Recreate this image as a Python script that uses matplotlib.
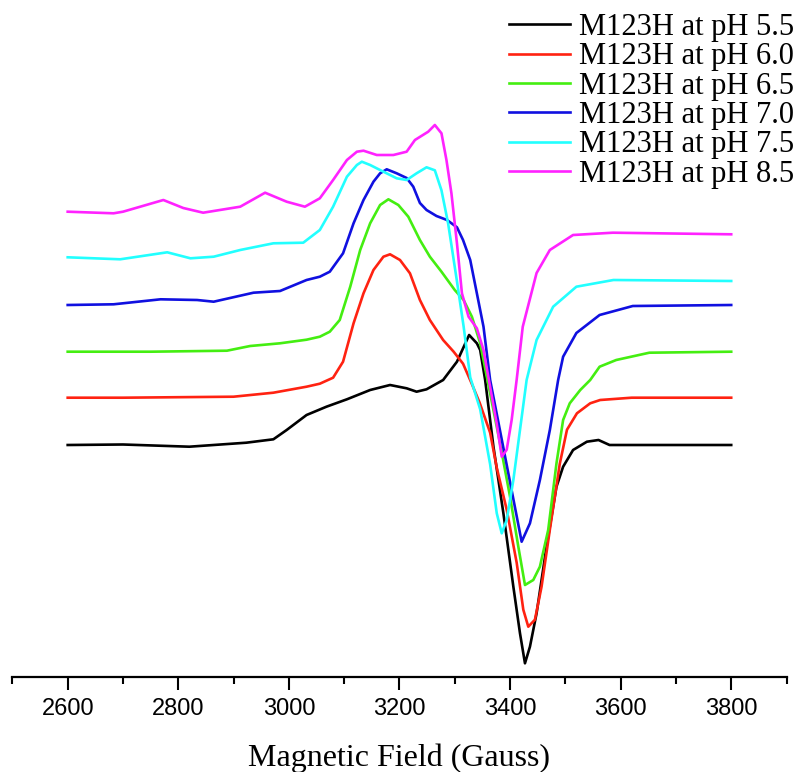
import numpy as np
import matplotlib
matplotlib.use("Agg")
from matplotlib import pyplot as plt
from matplotlib.ticker import MultipleLocator

# EPR spectra of M123H at several pH values
# signal is in arbitrary units (relative to each trace's own baseline)
field_55 = [2600, 2700, 2820, 2923, 2972, 2996, 3032, 3068, 3105, 3147, 3183, 3213, 3231, 3249,
            3279, 3304, 3326, 3340, 3346, 3355, 3370, 3388, 3406, 3418, 3427, 3436, 3448, 3466,
            3484, 3496, 3514, 3539, 3560, 3580, 3700, 3800]
sig_55 = [0, 0.5, -1.7, 2.3, 5.7, 15, 30, 38.3, 45.7, 55, 60, 56.7, 53.3, 55.7,
          65, 83.3, 110, 101.7, 95, 65, -1.7, -68.3, -141.7, -188.3, -218.3, -201.7, -168.3, -101.7,
          -41.7, -21.7, -5, 3.3, 5, 0, 0, 0]

field_60 = [2600, 2700, 2900, 2972, 3032, 3056, 3080, 3098, 3117, 3135, 3153, 3171, 3183, 3201,
            3219, 3237, 3255, 3279, 3298, 3315, 3330, 3345, 3364, 3376, 3394, 3412, 3424, 3433,
            3445, 3457, 3472, 3490, 3503, 3521, 3545, 3563, 3620, 3800]
sig_60 = [0, 0, 1, 5, 11, 14, 20, 36, 74.4, 104.4, 127.7, 141, 143.4, 137.7,
          124.4, 97.7, 77.7, 57.7, 46, 34, 15, -5, -35, -70, -112, -165, -212, -229,
          -222, -189, -132, -66, -32, -15.6, -5.6, -2.3, 0, 0]

field_65 = [2600, 2750, 2888, 2930, 2984, 3032, 3056, 3074, 3092, 3111, 3129, 3147, 3165, 3180,
            3198, 3216, 3237, 3255, 3276, 3300, 3316, 3331, 3346, 3352, 3382, 3400, 3415, 3427,
            3442, 3454, 3469, 3484, 3496, 3508, 3527, 3545, 3562, 3592, 3652, 3800]
sig_65 = [0, 0, 1, 5.7, 8.4, 12, 15, 20, 31.7, 65, 101.7, 128.4, 146.7, 152.4,
          146.7, 135, 111.7, 95, 80, 61.7, 51.7, 35, 8.4, -8.3, -92, -145, -195, -233.3,
          -228.3, -215, -178.3, -111.6, -68.3, -51.6, -38.3, -28.3, -15, -8.3, -1, 0]

field_70 = [2600, 2683, 2768, 2834, 2864, 2936, 2984, 3032, 3056, 3074, 3098, 3117, 3135, 3153,
            3165, 3177, 3195, 3213, 3225, 3237, 3249, 3267, 3286, 3304, 3315, 3328, 3340, 3352,
            3364, 3382, 3400, 3421, 3436, 3454, 3472, 3487, 3496, 3520, 3562, 3622, 3800]
sig_70 = [0, 0.7, 5.7, 5, 3.3, 12.3, 14, 25, 28.3, 33.3, 51.7, 81.7, 105, 123.3,
          131.7, 135.7, 131.7, 127, 118.3, 102, 95, 89, 85, 77.7, 65, 45, 11.7, -21.7,
          -75, -126, -177, -236.7, -218.3, -175, -125, -75, -51.7, -28, -10, -1, 0]

field_75 = [2600, 2695, 2780, 2822, 2864, 2912, 2972, 3026, 3056, 3080, 3105, 3123, 3132, 3147,
            3171, 3195, 3213, 3231, 3249, 3264, 3276, 3288, 3304, 3316, 3328, 3346, 3364, 3376,
            3385, 3394, 3406, 3418, 3430, 3448, 3478, 3520, 3587, 3800]
sig_75 = [0, -2, 5, -1, 0.6, 7.3, 14, 14.6, 27.3, 50.6, 80.6, 92.3, 95.6, 92.3,
          85.6, 79, 77.3, 84, 90, 87, 67, 34, -24, -69, -120, -152, -207, -256,
          -276, -262.7, -222.7, -172.7, -122.7, -82.7, -49.4, -29.4, -22.7, -23.7]

field_85 = [2600, 2683, 2700, 2773, 2809, 2845, 2912, 2957, 2996, 3029, 3056, 3080, 3105, 3123,
            3135, 3159, 3189, 3213, 3228, 3252, 3264, 3276, 3285, 3294, 3304, 3313, 3325, 3340,
            3352, 3376, 3385, 3394, 3403, 3412, 3423, 3448, 3472, 3514, 3586, 3800]
sig_85 = [0, -1.6, 0, 11.7, 3.7, -1, 5, 19, 10, 5, 13.4, 31.7, 51.7, 60,
          61, 56.7, 56.7, 60, 71.7, 80, 86.7, 78.4, 51.7, 18.4, -31.6, -81.6, -105, -116.6,
          -138.3, -212, -245, -238, -208, -168, -115, -61.3, -38.3, -23.3, -21, -22.6]

labels = ["M123H at pH 5.5", "M123H at pH 6.0", "M123H at pH 6.5",
          "M123H at pH 7.0", "M123H at pH 7.5", "M123H at pH 8.5"]
offsets = [0, 47.3, 93.3, 140, 187.7, 233.3]
colours = ["black", "#ff2211", "#44ee11", "#1010e0", "#22ffff", "#ff22ff"]

fields = [field_55, field_60, field_65, field_70, field_75, field_85]
signals = [sig_55, sig_60, sig_65, sig_70, sig_75, sig_85]

fig = plt.figure(figsize=(7.99, 7.72), dpi=100)
ax = fig.add_axes([12.4 / 799, 95 / 772, 774.1 / 799, 677 / 772])

for f, s, off, c, lab in zip(fields, signals, offsets, colours, labels):
    ax.plot(f, np.array(s) + off, color=c, linewidth=1.9, label=lab)

ax.set_xlim(2500, 3900)
ax.set_ylim(-232, 445)

for side in ["left", "right", "top"]:
    ax.spines[side].set_visible(False)
ax.spines["bottom"].set_linewidth(1.6)
ax.set_yticks([])
ax.xaxis.set_minor_locator(MultipleLocator(100))
ax.set_xticks(np.arange(2600, 3801, 200))
ax.tick_params(axis="x", which="major", direction="out", length=9, width=1.5, pad=6,
               labelsize=17)
ax.tick_params(axis="x", which="minor", direction="out", length=5, width=1.5)
for t in ax.get_xticklabels():
    t.set_fontfamily("Liberation Sans")

ax.set_xlabel("Magnetic Field (Gauss)", fontsize=23, family="Liberation Serif", labelpad=17)

ax.legend(loc="upper right", bbox_to_anchor=(794 / 799, 1 - 13 / 772),
          bbox_transform=fig.transFigure, frameon=False, borderpad=0, borderaxespad=0,
          handlelength=2.0, handletextpad=0.3, labelspacing=0.01,
          prop={"family": "Liberation Serif", "size": 22})

plt.savefig("out.png", dpi=100)
